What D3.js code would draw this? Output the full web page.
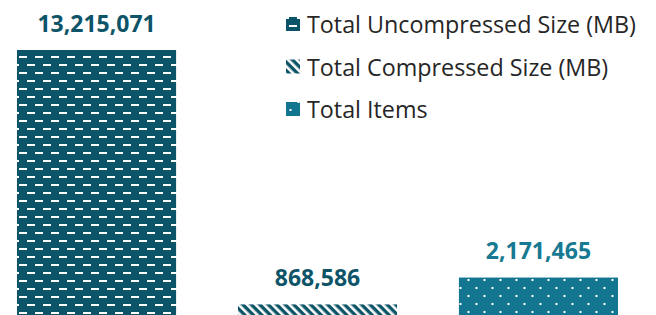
<!DOCTYPE html>
<html><head><meta charset="utf-8">
<script src="https://cdn.jsdelivr.net/npm/d3@7/dist/d3.min.js"></script>
<style>html,body{margin:0;padding:0;background:#fff;}svg{display:block;}</style>
</head><body>
<script>
const categories = ["Total Uncompressed Size (MB)", "Total Compressed Size (MB)", "Total Items"];
const values = [13215071, 868586, 2171465];
const labels = ["13,215,071", "868,586", "2,171,465"];
const colors = ["#0c5467", "#0c5467", "#127690"];
const labelColors = ["#0e5468", "#0e5468", "#177a92"];
const patternIds = ["pDash", "pDiag", "pDots"];

const W = 656, H = 315;
const svg = d3.select("body").append("svg").attr("width", W).attr("height", H);
const defs = svg.append("defs");

// dashed horizontal pattern
const p1 = defs.append("pattern").attr("id", "pDash").attr("patternUnits", "userSpaceOnUse")
  .attr("width", 16).attr("height", 16).attr("x", 3).attr("y", 56);
p1.append("rect").attr("width", 16).attr("height", 16).attr("fill", colors[0]);
p1.append("rect").attr("x", 0).attr("y", 0).attr("width", 8).attr("height", 2).attr("fill", "#fff");
p1.append("rect").attr("x", 8).attr("y", 8).attr("width", 8).attr("height", 2).attr("fill", "#fff");

// wide downward diagonal
const p2 = defs.append("pattern").attr("id", "pDiag").attr("patternUnits", "userSpaceOnUse")
  .attr("width", 6).attr("height", 6).attr("patternTransform", "rotate(-45)");
p2.append("rect").attr("width", 6).attr("height", 6).attr("fill", colors[1]);
p2.append("rect").attr("x", 0).attr("y", 0).attr("width", 2.6).attr("height", 6).attr("fill", "#fff");

// dotted
const p3 = defs.append("pattern").attr("id", "pDots").attr("patternUnits", "userSpaceOnUse")
  .attr("width", 16).attr("height", 16).attr("x", 3.5).attr("y", 279);
p3.append("rect").attr("width", 16).attr("height", 16).attr("fill", colors[2]);
p3.append("rect").attr("x", 0).attr("y", 0).attr("width", 2).attr("height", 2).attr("fill", "#fff");
p3.append("rect").attr("x", 8).attr("y", 8).attr("width", 2).attr("height", 2).attr("fill", "#fff");

const x = d3.scaleBand().domain(categories).range([17, 618]).paddingInner(0.28).paddingOuter(0);
const y = d3.scaleLinear().domain([0, 13215071]).range([322.3, 50]);

const g = svg.append("g");
g.selectAll("rect.bar").data(categories).join("rect").attr("class", "bar")
  .attr("x", d => x(d)).attr("width", x.bandwidth())
  .attr("y", (d, i) => y(values[i])).attr("height", (d, i) => y(0) - y(values[i]))
  .attr("fill", (d, i) => `url(#${patternIds[i]})`);

g.selectAll("text.lbl").data(categories).join("text").attr("class", "lbl")
  .attr("x", d => x(d) + x.bandwidth() / 2)
  .attr("y", (d, i) => y(values[i]) - 18.5)
  .attr("text-anchor", "middle")
  .attr("font-family", "'Open Sans', sans-serif").attr("font-weight", 700).attr("font-size", 23)
  .attr("fill", (d, i) => labelColors[i])
  .text((d, i) => labels[i]);

const legend = svg.append("g").attr("transform", "translate(286,17)");
const items = legend.selectAll("g").data(categories).join("g")
  .attr("transform", (d, i) => `translate(0,${i * 42.5})`);
items.append("rect").attr("width", 14).attr("height", 14)
  .attr("fill", (d, i) => `url(#${patternIds[i]})`);
items.append("text").attr("x", 21).attr("y", 16)
  .attr("font-family", "'Open Sans', sans-serif").attr("font-size", 23.3)
  .attr("fill", "#262626").text(d => d);
</script>
</body></html>
